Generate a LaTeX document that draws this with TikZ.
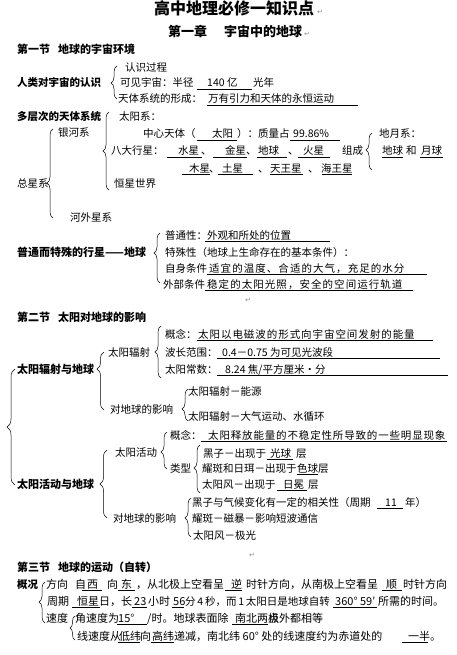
\documentclass[tikz,border=0pt]{standalone}
\usepackage{fontspec}
\setmainfont{Noto Sans CJK SC}
\newfontfamily\dv{DejaVu Sans}
\usetikzlibrary{decorations.pathreplacing}
\newcounter{tn}
\tikzset{
  txt/.style={anchor=base west, inner sep=0pt, font=\fontsize{10.5}{12}\selectfont},
  txs/.style={anchor=base west, inner sep=0pt, font=\fontsize{11}{12}\selectfont},
  hd/.style={anchor=base west, inner sep=0pt, font=\fontsize{11}{13}\selectfont\bfseries},
  lb/.style={anchor=base west, inner sep=0pt, font=\fontsize{10.5}{12}\selectfont\bfseries},
  ttl/.style={anchor=base west, inner sep=0pt, font=\fontsize{16}{18}\selectfont\bfseries},
  chp/.style={anchor=base west, inner sep=0pt, font=\fontsize{13}{15}\selectfont\bfseries},
  pm/.style={anchor=base west, inner sep=0pt, font=\dv\fontsize{7}{8}\selectfont, text=black!45},
  ul/.style={line width=0.6pt},
  brc/.style={line width=0.5pt, decorate},
}
\newcommand\T[4][txt]{\stepcounter{tn}\node[#1] (t\arabic{tn}) at (#2,#3+4) {#4};}
\newcommand\U[3]{\draw[ul] (#1,#3+6.5) -- (#2,#3+6.5);}
\newcommand\B[5]{\pgfmathsetmacro\asp{(#3-#4)/(#3-#2)}%
  \draw[brc,decoration={brace,amplitude=#5pt,aspect=\asp}] (#1,#3) -- (#1,#2);}
\newcommand\LS[2]{{\addfontfeatures{LetterSpace=#1}#2}}
\begin{document}
\begin{tikzpicture}[x=1pt,y=-1pt]
\fill[white] (0,0) rectangle (457,655);
\useasboundingbox (0,0) rectangle (457,655);
% title
\T[ttl]{154}{11}{高中地理必修一知识点}
\T[pm]{317}{11}{↵}
\T[chp]{168}{33}{第一章}
\T[chp]{224}{33}{宇宙中的地球}
\T[pm]{304}{33}{↵}
% section 1
\T[hd]{17}{50}{第一节}
\T[hd]{58}{50}{地球的宇宙环境}
\T[lb]{17}{83}{人类对宇宙的认识}
\B{117}{66}{99}{83}{6}
\T{125}{68}{认识过程}
\T{120}{83}{可见宇宙：半径}
\U{197}{252}{83}\T{207}{83}{140 亿}
\T{253}{83}{光年}
\T{118}{99}{天体系统的形成：}
\U{207}{358}{99}\T{208}{99}{万有引力和天体的永恒运动}
% 多层次
\T[lb]{17}{117}{多层次的天体系统}
\B{109}{112}{190}{151}{6}
\T{119}{117}{太阳系：}
\T{143}{134}{中心天体（}
\U{197}{237}{134}\T{212}{134}{太阳}
\T{237}{134}{）：质量占}
\U{290}{340}{134}\T{293}{134}{99.86\%}
\T{111}{151}{八大行星：}
\U{167}{202}{151}\T{178}{151}{水星}
\T{201}{151}{、}
\U{213}{247}{151}\T{225}{151}{金星}
\T{246}{151}{、}
\U{257}{287}{151}\T{258}{151}{地球}
\T{288}{151}{、}
\U{298}{330}{151}\T{303}{151}{火星}
\T{342}{151}{组成}
\U{182}{210}{168}\T{189}{168}{木星}
\T{209}{168}{、}
\U{218}{253}{168}\T{222}{168}{土星}
\T{258}{168}{、}
\U{270}{303}{168}\T{270}{168}{天王星}
\T{308}{168}{、}
\U{322}{352}{168}\T{321}{168}{海王星}
\T{114}{183}{恒星世界}
\B{372}{133}{170}{150}{6}
\T{379}{134}{地月系：}
\U{382}{403}{151}\T{382}{151}{地球}
\T{406}{151}{和}
\U{420}{443}{151}\T{421}{151}{月球}
\B{53}{129}{218}{183}{6}
\T{58}{133}{银河系}
\T{17}{183}{总星系}
\T{70}{217}{河外星系}
% 普通而特殊
\T[hd]{17}{252}{普通而特殊的行星——地球}
\B{160}{233}{283}{253}{6}
\T{165}{235}{普通性：}
\U{205}{330}{235}\T{207}{235}{外观和所处的位置}
\T{165}{252}{特殊性（地球上生命存在的基本条件）：}
\T{165}{268}{自身条件}
\U{207}{427}{268}\T{209}{268}{\LS{10}{适宜的温度、合适的大气，充足的水分}}
\T{163}{284}{外部条件}
\U{205}{413}{284}\T{207}{284}{\LS{10}{稳定的太阳光照，安全的空间运行轨道}}
\T[pm]{245}{298}{↵}
% section 2
\T[hd]{17}{317}{第二节}
\T[hd]{58}{317}{太阳对地球的影响}
\B{161}{326}{378}{352}{6}
\T{165}{334}{概念：}
\U{197}{433}{334}\T{198}{334}{\LS{9}{太阳以电磁波的形式向宇宙空间发射的能量}}
\T{108}{352}{太阳辐射}
\T{165}{352}{波长范围：}
\U{217}{440}{352}\T{222}{352}{0.4－0.75 为可见光波段}
\T{165}{369}{太阳常数：}
\U{217}{448}{369}\T{225}{369}{8.24 焦/平方厘米・分}
\T[hd]{17}{369}{太阳辐射与地球}
\B{104}{352}{410}{369}{7}
\T{110}{409}{对地球的影响}
\B{188}{389}{421}{409}{6}
\T{188}{391}{太阳辐射－能源}
\T{188}{416}{太阳辐射－大气运动、水循环}
\B{15}{369}{485}{427}{8}
\T{170}{435}{概念：}
\U{201}{447}{435}\T{208}{435}{\LS{8}{太阳释放能量的不稳定性所导致的一些明显现象}}
\T{115}{452}{太阳活动}
\B{167}{432}{469}{452}{6}
\T{170}{468}{类型}
\B{200}{445}{493}{468}{6}
\T{203}{453}{黑子－出现于}
\U{267}{293}{453}\T{270}{453}{光球}
\T{296}{453}{层}
\T{202}{468}{耀斑和日珥－出现于}
\U{297}{318}{468}\T{297}{468}{色球}
\T{318}{468}{层}
\T{202}{484}{太阳风－出现于}
\U{277}{307}{484}\T{283}{484}{日冕}
\T{308}{484}{层}
\T[hd]{17}{484}{太阳活动与地球}
\B{107}{450}{518}{484}{7}
\T{113}{518}{对地球的影响}
\B{191}{498}{537}{518}{6}
\T{192}{502}{黑子与气候变化有一定的相关性（周期}
\U{377}{403}{502}\T{385}{502}{11}
\T{405}{502}{年）}
\T{192}{518}{耀斑－磁暴－影响短波通信}
\T{193}{535}{太阳风－极光}
\T[pm]{249}{553}{↵}
% section 3
\T[hd]{17}{567}{第三节}
\T[hd]{58}{567}{地球的运动（自转）}
\T[lb]{17}{584}{概况}
\B{45}{582}{623}{602}{6}
\T[txs]{46}{584}{方向}
\T[txs]{75}{584}{自}
\U{82}{102}{584}\T[txs]{87}{584}{西}
\T[txs]{107}{584}{向}
\U{118}{135}{584}\T[txs]{121}{584}{东}
\T[txs]{136}{584}{，从北极上空看呈}
\U{225}{242}{584}\T[txs]{231}{584}{逆}
\T[txs]{246}{584}{时针方向，从南极上空看呈}
\U{382}{402}{584}\T[txs]{386}{584}{顺}
\T[txs]{403}{584}{时针方向}
\T[txs]{47}{601}{周期}
\U{72}{100}{601}\T[txs]{77}{601}{恒星}
\T[txs]{99}{601}{日，长}
\U{132}{147}{601}\T[txs]{134}{601}{23}
\T[txs]{148}{601}{小时}
\U{172}{184}{601}\T[txs]{173}{601}{56}
\T{185}{601}{分\,4\,秒，而\,1\,太阳日是地球自转}
\U{333}{377}{601}\T[txs]{335}{601}{360° 59′}
\T[txs]{378}{601}{所需的时间。}
\T[txs]{46}{618}{速度}
\B{75}{616}{640}{628}{5}
\T[txs]{75}{618}{角速度为}
\U{117}{147}{618}\T[txs]{118}{618}{15°}
\T[txs]{147}{618}{/时。地球表面除}
\U{232}{268}{618}\T[txs]{235}{618}{南北两极}
\T[txs]{268}{618}{点外都相等}
\T[txs]{77}{636}{线速度从}
\U{118}{140}{636}\T[txs]{119}{636}{低纬}
\T[txs]{140}{636}{向}
\U{151}{174}{636}\T[txs]{152}{636}{高纬}
\T[txs]{174}{636}{递减，南北纬 60° 处的线速度约为赤道处的}
\U{402}{428}{636}\T[txs]{408}{636}{一半}
\T[txs]{430}{636}{。}
\end{tikzpicture}
\end{document}
